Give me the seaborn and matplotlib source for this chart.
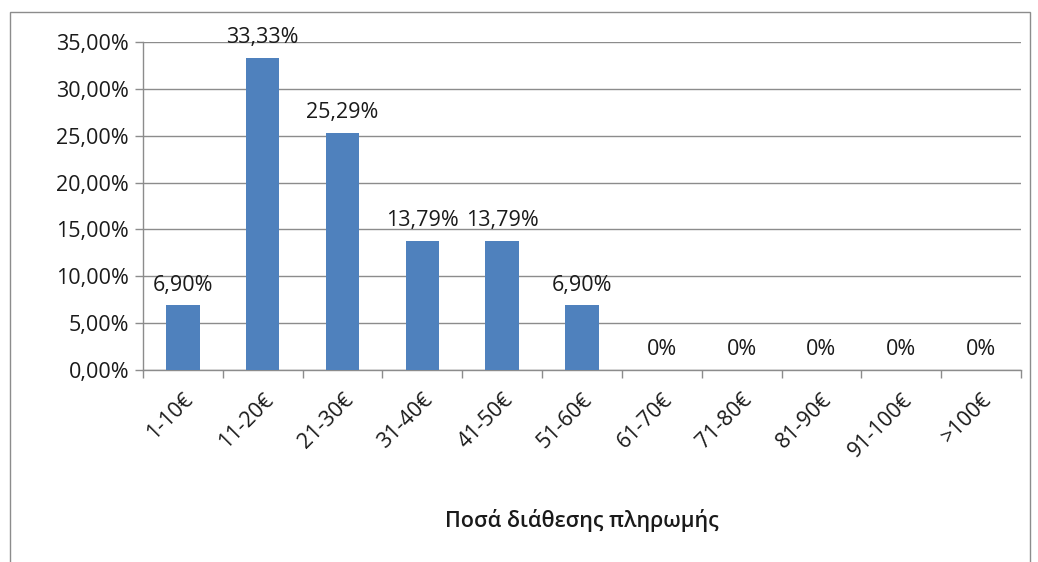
import matplotlib
matplotlib.use("Agg")
import matplotlib.pyplot as plt
import seaborn as sns
import pandas as pd
from matplotlib.patches import Rectangle

categories = ["1-10€", "11-20€", "21-30€", "31-40€", "41-50€", "51-60€",
              "61-70€", "71-80€", "81-90€", "91-100€", ">100€"]
values = [6.90, 33.33, 25.29, 13.79, 13.79, 6.90, 0, 0, 0, 0, 0]
value_labels = ["6,90%", "33,33%", "25,29%", "13,79%", "13,79%", "6,90%",
                "0%", "0%", "0%", "0%", "0%"]
y_ticks = [0, 5, 10, 15, 20, 25, 30, 35]
y_tick_labels = ["0,00%", "5,00%", "10,00%", "15,00%", "20,00%", "25,00%", "30,00%", "35,00%"]
x_title = "Ποσά διάθεσης πληρωμής"

sns.set_theme(style="white")
plt.rcParams['font.family'] = ['Open Sans', 'DejaVu Sans']

df = pd.DataFrame({"cat": categories, "val": values})

fig = plt.figure(figsize=(10.38, 5.62), dpi=100)
ax = fig.add_axes([143/1038, 1-370/562, (1021-143)/1038, (370-42)/562])

sns.barplot(data=df, x="cat", y="val", color="#4F81BD", width=0.42,
            saturation=1, ax=ax, zorder=3, edgecolor="none", linewidth=0)

FS = 15.5
TXT = "#1a1a1a"
GRID = "#8c8c8c"

ax.set_xlim(-0.5, len(categories) - 0.5)
ax.set_ylim(0, 35)
ax.set_yticks(y_ticks)
ax.set_yticklabels(y_tick_labels, fontsize=FS, color=TXT)
ax.yaxis.grid(True, color=GRID, linewidth=1.0, zorder=0)
ax.set_axisbelow(True)

ax.set_xticks(range(len(categories)))
ax.set_xticklabels(categories, rotation=45, ha="right", rotation_mode="anchor",
                   fontsize=FS, color=TXT)
ax.tick_params(axis="x", which="major", length=0, pad=14)
ax.set_xticks([i - 0.5 for i in range(len(categories) + 1)], minor=True)
ax.tick_params(axis="x", which="minor", bottom=True, length=6, color=GRID,
               width=1, direction="out")
ax.tick_params(axis="y", which="major", left=True, length=6, color=GRID,
               width=1, direction="out", pad=4)

for s in ["top", "right"]:
    ax.spines[s].set_visible(False)
for s in ["left", "bottom"]:
    ax.spines[s].set_color(GRID)
    ax.spines[s].set_linewidth(1.0)

ax.set_xlabel(x_title, fontsize=FS, color=TXT, labelpad=34, fontweight="semibold")
ax.set_ylabel("")

for i, (v, lab) in enumerate(zip(values, value_labels)):
    ax.annotate(lab, (i, v), xytext=(0, 7), textcoords="offset points",
                ha="center", va="bottom", fontsize=FS, color=TXT,
                annotation_clip=False)

fig.patches.append(Rectangle((10/1038, -0.05), (1030-10)/1038, 1.05 - 12/562,
                             transform=fig.transFigure, fill=False,
                             edgecolor=GRID, linewidth=1.0))

fig.savefig("out.png", dpi=100)
